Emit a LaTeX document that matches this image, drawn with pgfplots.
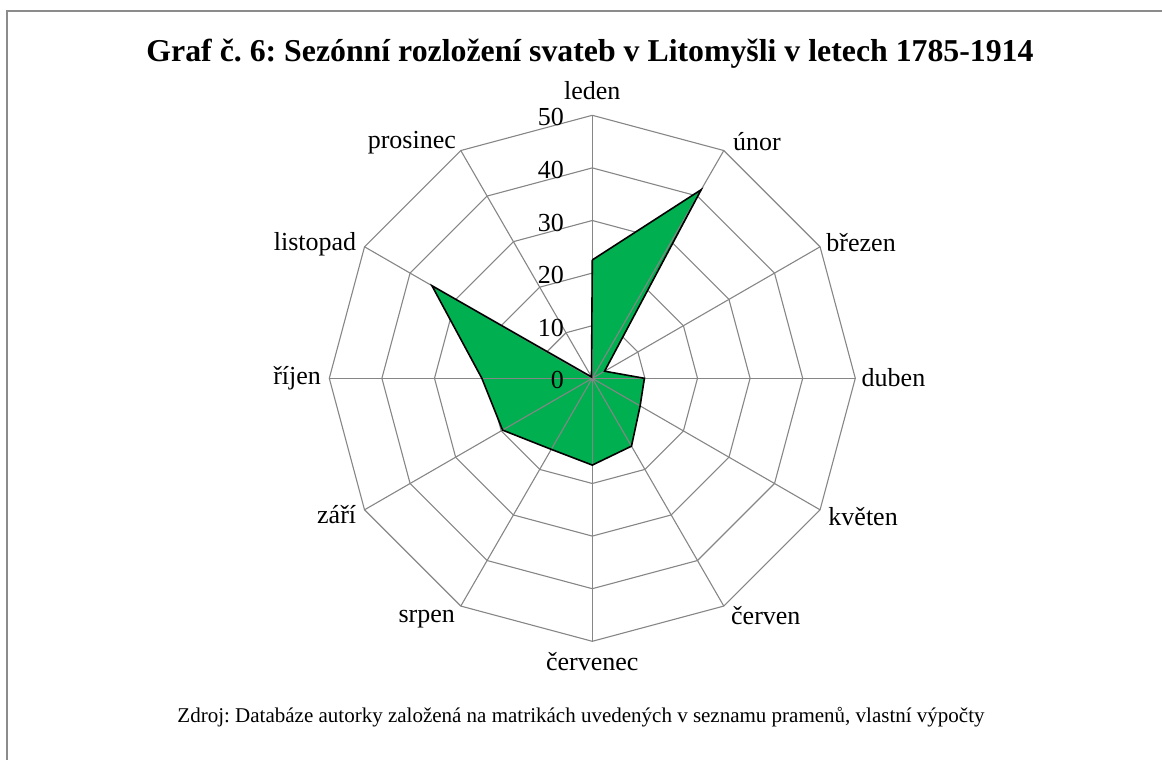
\documentclass[border=0pt]{standalone}
\usepackage{fontspec}
\setmainfont{Liberation Serif}
\usepackage{pgfplots}
\pgfplotsset{compat=1.18}
\usepgfplotslibrary{polar}
\definecolor{xgreen}{RGB}{0,176,80}
\definecolor{gridc}{RGB}{134,134,134}
\definecolor{framec}{RGB}{140,140,140}
\frenchspacing
\tikzset{lbl/.style={inner sep=0pt, font=\fontsize{13}{15}\selectfont}}
\begin{document}
\begin{tikzpicture}[x=1pt,y=1pt]
\useasboundingbox (0,0) rectangle (581,380);
\draw[framec, line width=0.6pt] (3.5,-2) -- (3.5,374.5) -- (583,374.5);
\node[anchor=base, font=\fontsize{15.9}{18}\selectfont\bfseries, inner sep=0] at (295,349) {Graf č. 6: Sezónní rozložení svateb v Litomyšli v letech 1785-1914};
\node[anchor=base, font=\fontsize{10.5}{12}\selectfont, inner sep=0] at (290.5,18.5) {Zdroj: Databáze autorky založená na matrikách uvedených v seznamu pramenů, vlastní výpočty};
\begin{polaraxis}[
  at={(296.15pt,190.85pt)}, anchor=origin,
  scale only axis, width=263pt, height=263pt,
  ymin=0, ymax=50, xmin=0, xmax=360,
  hide axis, clip=false,
]
% rings
\pgfplotsinvokeforeach{10,20,30,40,50}{
  \addplot[gridc, line width=0.55pt, mark=none] coordinates {(90,#1) (60,#1) (30,#1) (0,#1) (-30,#1) (-60,#1) (-90,#1) (-120,#1) (-150,#1) (-180,#1) (-210,#1) (-240,#1) (-270,#1)};
}
% data fill
\addplot[fill=xgreen, draw=none, mark=none] coordinates {(90,22.5) (60,41.4) (30,2.7) (0,9.9) (-30,10.5) (-60,14.9) (-90,16.5) (-120,15.6) (-150,19.7) (-180,21.0) (-210,35.2) (-240,0.3) (-270,22.5)};
% spokes
\pgfplotsinvokeforeach{90,60,30,0,-30,-60,-90,-120,-150,-180,-210,-240}{
  \addplot[gridc, line width=0.55pt, mark=none] coordinates {(#1,0) (#1,50)};
}
% data outline
\addplot[draw=black, line width=0.8pt, line join=miter, mark=none] coordinates {(90,22.5) (60,41.4) (30,2.7) (0,9.9) (-30,10.5) (-60,14.9) (-90,16.5) (-120,15.6) (-150,19.7) (-180,21.0) (-210,35.2) (-240,0.3) (-270,22.5)};
% value labels
\pgfplotsinvokeforeach{0,10,20,30,40,50}{
  \node[lbl, anchor=east, xshift=-14pt, yshift=-1pt] at (axis cs:90,#1) {#1};
}
% category labels
\node[lbl, anchor=base, yshift=8pt] at (axis cs:90,50) {leden};
\node[lbl, anchor=base west, xshift=4.5pt, yshift=0pt] at (axis cs:60,50) {únor};
\node[lbl, anchor=base west, xshift=3pt, yshift=-2.25pt] at (axis cs:30,50) {březen};
\node[lbl, anchor=base west, xshift=3pt, yshift=-4pt] at (axis cs:0,50) {duben};
\node[lbl, anchor=base west, xshift=4pt, yshift=-7.75pt] at (axis cs:-30,50) {květen};
\node[lbl, anchor=base west, xshift=3.5pt, yshift=-9pt] at (axis cs:-60,50) {červen};
\node[lbl, anchor=base, yshift=-14.5pt] at (axis cs:-90,50) {červenec};
\node[lbl, anchor=base east, xshift=-2.75pt, yshift=-8pt] at (axis cs:-120,50) {srpen};
\node[lbl, anchor=base east, xshift=-4pt, yshift=-6.75pt] at (axis cs:-150,50) {září};
\node[lbl, anchor=base east, xshift=-4pt, yshift=-3pt] at (axis cs:-180,50) {říjen};
\node[lbl, anchor=base east, xshift=-4pt, yshift=-1.75pt] at (axis cs:-210,50) {listopad};
\node[lbl, anchor=base east, xshift=-2.25pt, yshift=1pt] at (axis cs:-240,50) {prosinec};
\end{polaraxis}
\end{tikzpicture}
\end{document}
